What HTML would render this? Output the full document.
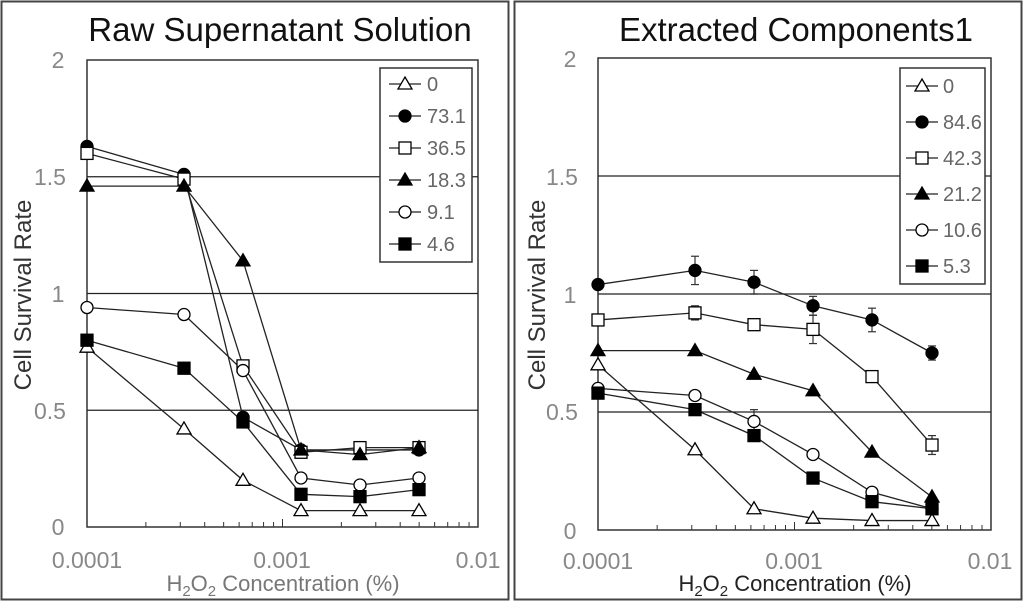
<!DOCTYPE html>
<html><head><meta charset="utf-8"><style>
html,body{margin:0;padding:0;background:#fff;}
svg{display:block;font-family:"Liberation Sans",sans-serif;}
</style></head><body>
<svg id="s" width="1024" height="602" viewBox="0 0 1024 602" xmlns="http://www.w3.org/2000/svg">
<rect x="1.5" y="1.5" width="507" height="598" fill="none" stroke="#444" stroke-width="2"/>
<rect x="514.5" y="1.5" width="507" height="598" fill="none" stroke="#444" stroke-width="2"/>
<text x="280" y="41" font-size="33" text-anchor="middle" fill="#111">Raw Supernatant Solution</text>
<text x="796" y="41" font-size="33" text-anchor="middle" fill="#111">Extracted Components1</text>
<g font-size="23" fill="#888" text-anchor="middle">
<text x="58" y="68">2</text><text x="50" y="185">1.5</text><text x="58" y="302">1</text><text x="50" y="419">0.5</text><text x="58" y="535">0</text>
<text x="87" y="568">0.0001</text><text x="282" y="568">0.001</text><text x="478" y="568">0.01</text>
<text x="570" y="67">2</text><text x="562" y="185">1.5</text><text x="570" y="303">1</text><text x="562" y="420">0.5</text><text x="570" y="539">0</text>
<text x="598" y="569">0.0001</text><text x="794" y="569">0.001</text><text x="990" y="569">0.01</text>
</g>
<g font-size="24" fill="#333">
<text transform="translate(31,295) rotate(-90)" text-anchor="middle">Cell Survival Rate</text>
<text transform="translate(545,295) rotate(-90)" text-anchor="middle">Cell Survival Rate</text>
</g>
<g font-size="22">
<text x="283" y="591" text-anchor="middle" fill="#777">H<tspan font-size="15" dy="5">2</tspan><tspan dy="-5">O</tspan><tspan font-size="15" dy="5">2</tspan><tspan dy="-5"> Concentration (%)</tspan></text>
<text x="795" y="591" text-anchor="middle" fill="#222">H<tspan font-size="15" dy="5">2</tspan><tspan dy="-5">O</tspan><tspan font-size="15" dy="5">2</tspan><tspan dy="-5"> Concentration (%)</tspan></text>
</g>
<g id="plots"></g>
<g font-size="20" fill="#666">
<rect x="380" y="68" width="92" height="194" fill="#fff" stroke="#333" stroke-width="1.5"/>
<text x="427" y="91">0</text><text x="427" y="123">73.1</text><text x="427" y="155">36.5</text><text x="427" y="187">18.3</text><text x="427" y="219">9.1</text><text x="427" y="251">4.6</text>
<rect x="900" y="68" width="85" height="216" fill="#fff" stroke="#333" stroke-width="1.5"/>
<text x="943" y="93">0</text><text x="943" y="129">84.6</text><text x="943" y="165">42.3</text><text x="943" y="201">21.2</text><text x="943" y="237">10.6</text><text x="943" y="273">5.3</text>
</g>
<g id="lg"></g>
</svg>
<script>
var NS="http://www.w3.org/2000/svg",g=document.getElementById("plots");
function el(t,a){var e=document.createElementNS(NS,t);for(var k in a)e.setAttribute(k,a[k]);g.appendChild(e);return e;}
function marker(type,x,y){
 if(type==0||type==3){el("path",{d:"M"+x+","+(y-7)+"L"+(x+7)+","+(y+5)+"L"+(x-7)+","+(y+5)+"Z",fill:type==0?"#fff":"#000",stroke:"#000","stroke-width":1.3});}
 else if(type==1||type==4){el("circle",{cx:x,cy:y,r:6,fill:type==1?"#000":"#fff",stroke:"#000","stroke-width":1.3});}
 else{el("rect",{x:x-6,y:y-6,width:12,height:12,fill:type==5?"#000":"#fff",stroke:"#000","stroke-width":1.3});}
}
function plot(x0,x1,y0,sc,xs,data){
 var yt=y0-2*sc;
 el("rect",{x:x0,y:yt,width:x1-x0,height:y0-yt,fill:"none",stroke:"#333","stroke-width":1.5});
 [0.5,1,1.5].forEach(function(v){el("line",{x1:x0,x2:x1,y1:y0-v*sc,y2:y0-v*sc,stroke:"#222","stroke-width":1.3});});
 var dec=(x1-x0)/2;
 for(var d=0;d<2;d++)for(var m=2;m<=9;m++){var x=x0+dec*(d+Math.log10(m));el("line",{x1:x,x2:x,y1:y0,y2:y0-5,stroke:"#333","stroke-width":1});}
 el("line",{x1:x0+dec,x2:x0+dec,y1:y0,y2:y0-8,stroke:"#333","stroke-width":1});
 data.forEach(function(s){var p=s.map(function(v,j){return xs[j]+","+(y0-v*sc);}).join(" ");
  el("polyline",{points:p,fill:"none",stroke:"#222","stroke-width":1.3});});
 data.forEach(function(s,i){s.forEach(function(v,j){marker(i,xs[j],y0-v*sc);});});
}
[[695,1.10,.06],[754,1.05,.05],[813,.95,.04],[872,.89,.05],[932,.75,.03],[695,.92,.03],[813,.85,.06],[932,.36,.04],[754,.46,.05]].forEach(function(e){
 var y0=530,sc=236;el("line",{x1:e[0],x2:e[0],y1:y0-(e[1]+e[2])*sc,y2:y0-(e[1]-e[2])*sc,stroke:"#333","stroke-width":1.2});
 [e[1]+e[2],e[1]-e[2]].forEach(function(v){el("line",{x1:e[0]-4,x2:e[0]+4,y1:y0-v*sc,y2:y0-v*sc,stroke:"#333","stroke-width":1.2});});});
plot(87,478,527,233.5,[87,184,243,301,360,419],[
[.77,.42,.20,.07,.07,.07],[1.63,1.51,.47,.33,.33,.33],[1.60,1.49,.69,.32,.34,.34],
[1.46,1.46,1.14,.33,.31,.34],[.94,.91,.67,.21,.18,.21],[.80,.68,.45,.14,.13,.16]]);
plot(598,991,530,236,[598,695,754,813,872,932],[
[.70,.34,.09,.05,.04,.04],[1.04,1.10,1.05,.95,.89,.75],[.89,.92,.87,.85,.65,.36],
[.76,.76,.66,.59,.33,.14],[.60,.57,.46,.32,.16,.09],[.58,.51,.40,.22,.12,.09]]);
g=document.getElementById("lg");
function leg(x,y0,dy){for(var i=0;i<6;i++){var y=y0+i*dy;el("line",{x1:x-16,x2:x+16,y1:y,y2:y,stroke:"#222","stroke-width":1.3});marker(i,x,y);}}
leg(405,84,32);leg(922,86,36);
</script>
</body></html>
